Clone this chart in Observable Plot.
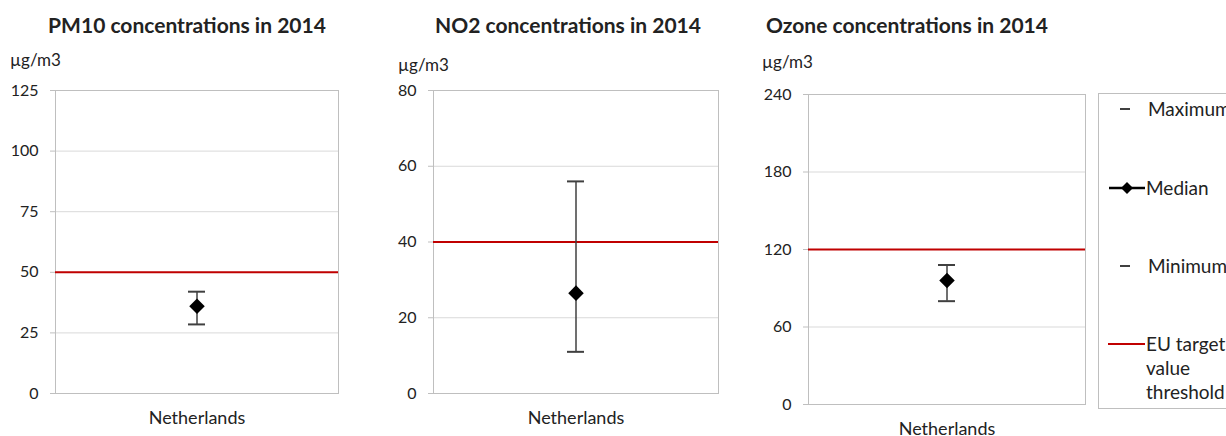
<!DOCTYPE html>
<html>
<head>
<meta charset="utf-8">
<script src="https://cdn.jsdelivr.net/npm/d3@7"></script>
<script src="https://cdn.jsdelivr.net/npm/@observablehq/plot@0.6"></script>
<style>
  html, body { margin: 0; padding: 0; background: #fff; }
  body { width: 1226px; height: 436px; position: relative; overflow: hidden; font-family: Lato, "Open Sans", sans-serif; color: #222; }
  .abs { position: absolute; }
  .title { font-weight: bold; font-size: 21px; white-space: nowrap; transform: translateX(-50%); line-height: 26px; }
  .unit { font-size: 17px; line-height: 20px; }
  .legend { border: 1px solid #bfbfbf; font-size: 19px; }
  .legend .item { position: absolute; white-space: nowrap; line-height: 24px; }
</style>
</head>
<body>
<div id="root"></div>
<script>
// ---- data ----
const pollutants = ["PM10", "NO2", "Ozone"];
const countries = ["Netherlands"];
const maxValues = [42, 56, 108];
const medianValues = [36, 26.5, 96];
const minValues = [28.5, 11, 80];
const thresholds = [50, 40, 120];
const yMaxValues = [125, 80, 240];
const yTicks = [[0, 25, 50, 75, 100, 125], [0, 20, 40, 60, 80], [0, 60, 120, 180, 240]];
const unitLabel = "µg/m3";
const legendLabels = ["Maximum", "Median", "Minimum", "EU target value threshold"];

// ---- layout ----
const frames = [
  {l: 55, r: 338, t: 90, b: 393, titleX: 187, unitX: 10, unitY: 50},
  {l: 433, r: 718, t: 90, b: 393, titleX: 568, unitX: 398, unitY: 55},
  {l: 808, r: 1085, t: 94, b: 404, titleX: 907, unitX: 762, unitY: 52}
];
const root = document.getElementById("root");
const mL = 60, mT = 15, mR = 10, mB = 45;
const capW = 17;
const font = "Lato, 'Open Sans', sans-serif";

pollutants.forEach((p, i) => {
  const f = frames[i];
  const rows = countries.map(c => ({country: c, max: maxValues[i], median: medianValues[i], min: minValues[i]}));
  const plotW = f.r - f.l;
  const inset = (plotW - capW) / 2;
  const chart = Plot.plot({
    width: plotW + mL + mR,
    height: f.b - f.t + mT + mB,
    marginLeft: mL, marginTop: mT, marginRight: mR, marginBottom: mB,
    style: {fontFamily: font, fontSize: "16px", color: "#222", background: "transparent"},
    x: {type: "band", domain: countries, padding: 0, label: null},
    y: {domain: [0, yMaxValues[i]], ticks: yTicks[i], label: null},
    marks: [
      Plot.gridY(yTicks[i], {stroke: "#d9d9d9", strokeOpacity: 1}),
      Plot.frame({stroke: "#bfbfbf"}),
      Plot.axisY({ticks: yTicks[i], tickSize: 5, tickPadding: 12, stroke: "#bfbfbf", fontSize: 16, fill: "#222"}),
      Plot.axisX({tickSize: 0, tickPadding: 18, fontSize: 18, fill: "#222"}),
      Plot.ruleY([thresholds[i]], {stroke: "#c00000", strokeWidth: 2}),
      Plot.ruleX(rows, {x: "country", y1: "min", y2: "max", stroke: "#404040", strokeWidth: 1.5}),
      Plot.tickY(rows, {x: "country", y: "max", stroke: "#404040", strokeWidth: 2, insetLeft: inset, insetRight: inset}),
      Plot.tickY(rows, {x: "country", y: "min", stroke: "#404040", strokeWidth: 2, insetLeft: inset, insetRight: inset}),
      Plot.dot(rows, {x: "country", y: "median", symbol: "diamond2", r: 7, fill: "#000", stroke: "none"})
    ]
  });
  chart.style.position = "absolute";
  chart.style.left = (f.l - mL) + "px";
  chart.style.top = (f.t - mT) + "px";
  chart.style.overflow = "visible";
  root.appendChild(chart);

  const t = document.createElement("div");
  t.className = "abs title";
  t.style.left = f.titleX + "px";
  t.style.top = "12px";
  t.textContent = p + " concentrations in 2014";
  root.appendChild(t);

  const u = document.createElement("div");
  u.className = "abs unit";
  u.style.left = f.unitX + "px";
  u.style.top = f.unitY + "px";
  u.textContent = unitLabel;
  root.appendChild(u);
});

// ---- legend ----
const lg = document.createElement("div");
lg.className = "abs legend";
lg.style.left = "1098px"; lg.style.top = "93px"; lg.style.width = "160px"; lg.style.height = "314px";
lg.innerHTML = `
<svg class="item" style="left:0;top:0" width="50" height="314">
  <line x1="21" x2="31" y1="15" y2="15" stroke="#404040" stroke-width="2"/>
  <line x1="10" x2="46" y1="94" y2="94" stroke="#000" stroke-width="2.5"/>
  <path d="M28,88 L34,94 L28,100 L22,94 Z" fill="#000"/>
  <line x1="21" x2="31" y1="172" y2="172" stroke="#404040" stroke-width="2"/>
  <line x1="9" x2="46" y1="250" y2="250" stroke="#c00000" stroke-width="2"/>
</svg>
<div class="item" style="left:49px;top:3px">${legendLabels[0]}</div>
<div class="item" style="left:47px;top:82px">${legendLabels[1]}</div>
<div class="item" style="left:49px;top:160px">${legendLabels[2]}</div>
<div class="item" style="left:47px;top:238px;white-space:normal;width:92px">${legendLabels[3]}</div>
`;
root.appendChild(lg);
</script>
</body>
</html>
